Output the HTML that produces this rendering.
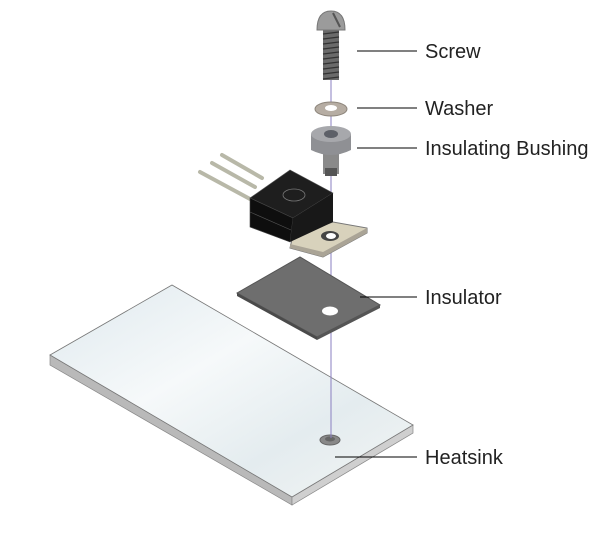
<!DOCTYPE html>
<html><head><style>
body{margin:0;background:#fff;width:608px;height:538px;overflow:hidden;font-family:"Liberation Sans",sans-serif}
</style></head><body>
<svg width="608" height="538" viewBox="0 0 608 538" xmlns="http://www.w3.org/2000/svg">
<defs>
<linearGradient id="pl" x1="0" y1="0" x2="1" y2="1">
<stop offset="0" stop-color="#dfe9ee"/><stop offset="0.4" stop-color="#f6f9fa"/><stop offset="0.7" stop-color="#e4ecef"/><stop offset="1" stop-color="#f3f5f4"/></linearGradient>
</defs>
<!-- heatsink -->
<polygon points="50,355 50,365 292,505 292,497" fill="#b9b9b9" stroke="#888" stroke-width="0.7"/>
<polygon points="292,497 292,505 413,433 413,425" fill="#cfcfcf" stroke="#888" stroke-width="0.7"/>
<polygon points="50,355 172,285 413,425 292,497" fill="url(#pl)" stroke="#777" stroke-width="0.8"/>
<ellipse cx="330" cy="440" rx="10" ry="5" fill="#888" stroke="#666"/>
<ellipse cx="330" cy="439" rx="5" ry="2.5" fill="#666"/>
<!-- axis -->
<line x1="331" y1="80" x2="331" y2="438" stroke="#8a7fc0" stroke-width="1"/>
<!-- insulator -->
<polygon points="237,293 300,257 380,305 317,337" fill="#6e6e6e" stroke="#555"/>
<polygon points="237,293 317,337 317,340 237,296" fill="#4a4a4a"/>
<polygon points="317,337 380,305 380,308 317,340" fill="#555"/>
<ellipse cx="330" cy="311" rx="8" ry="4.5" fill="#fff"/>
<!-- leads -->
<g stroke="#b8b8a8" stroke-width="4" stroke-linecap="round">
<line x1="222" y1="155" x2="262" y2="178"/>
<line x1="212" y1="163" x2="255" y2="187"/>
<line x1="200" y1="172" x2="250" y2="199"/>
</g>
<!-- tab -->
<polygon points="293,235 333,222 367,228 367,233 323,257 290,248" fill="#d8d2bc" stroke="#777"/>
<polygon points="290,244 323,252 367,228 367,233 323,257 290,248" fill="#aaa496"/>
<ellipse cx="330" cy="236" rx="9" ry="5" fill="#444"/>
<ellipse cx="331" cy="236" rx="5" ry="3" fill="#fff"/>
<!-- black body -->
<polygon points="250,198 290,170 333,193 293,218" fill="#1e1e1e" stroke="#555" stroke-width="0.6"/>
<polygon points="250,198 293,218 290,242 250,227" fill="#0e0e0e" stroke="#444" stroke-width="0.6"/>
<polygon points="293,218 333,193 333,222 290,242" fill="#181818"/>
<line x1="250" y1="212" x2="291" y2="230" stroke="#555" stroke-width="0.6"/>
<ellipse cx="294" cy="195" rx="11" ry="6" fill="none" stroke="#777" stroke-width="0.8"/>
<!-- bushing -->
<rect x="323" y="150" width="16" height="24" fill="#8a8a8a"/>
<rect x="325" y="168" width="12" height="8" fill="#555"/>
<path d="M311,134 L311,150 Q331,160 351,150 L351,134 Z" fill="#8f9094"/>
<ellipse cx="331" cy="134" rx="20" ry="8" fill="#a7a8ac"/>
<ellipse cx="331" cy="134" rx="7" ry="4" fill="#5d6068"/>
<!-- washer -->
<ellipse cx="331" cy="109" rx="16" ry="7" fill="#b6ada3" stroke="#8d857b"/>
<ellipse cx="331" cy="108" rx="6" ry="3" fill="#fff"/>
<!-- screw -->
<rect x="323" y="28" width="16" height="52" fill="#6a6a6a"/>
<g stroke="#333" stroke-width="1.2">
<line x1="323" y1="34" x2="339" y2="32"/><line x1="323" y1="39" x2="339" y2="37"/><line x1="323" y1="44" x2="339" y2="42"/><line x1="323" y1="49" x2="339" y2="47"/><line x1="323" y1="54" x2="339" y2="52"/><line x1="323" y1="59" x2="339" y2="57"/><line x1="323" y1="64" x2="339" y2="62"/><line x1="323" y1="69" x2="339" y2="67"/><line x1="323" y1="74" x2="339" y2="72"/><line x1="323" y1="79" x2="339" y2="77"/>
</g>
<path d="M317,30 Q317,11 331,11 Q345,11 345,30 Z" fill="#9b9b9b" stroke="#777"/>
<line x1="333" y1="13" x2="340" y2="27" stroke="#555" stroke-width="2"/>
<!-- callouts -->
<g stroke="#000" stroke-width="1">
<line x1="357" y1="51" x2="417" y2="51"/>
<line x1="357" y1="108" x2="417" y2="108"/>
<line x1="357" y1="148" x2="417" y2="148"/>
<line x1="360" y1="297" x2="417" y2="297"/>
<line x1="335" y1="457" x2="417" y2="457"/>
</g>
<g font-size="20" fill="#222">
<text x="425" y="58">Screw</text>
<text x="425" y="115">Washer</text>
<text x="425" y="155">Insulating Bushing</text>
<text x="425" y="304">Insulator</text>
<text x="425" y="464">Heatsink</text>
</g>
</svg>
</body></html>
